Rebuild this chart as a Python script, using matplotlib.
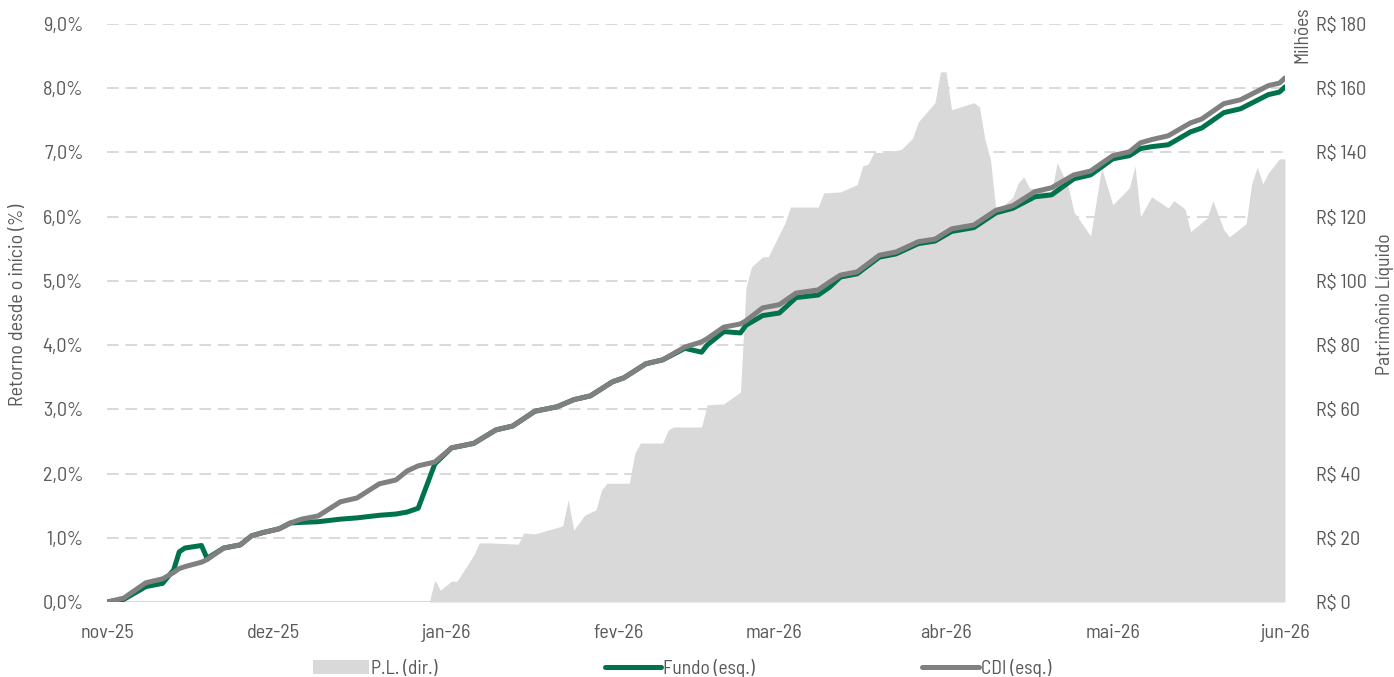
import matplotlib
matplotlib.use("Agg")
import matplotlib.pyplot as plt
from matplotlib.ticker import FuncFormatter, MultipleLocator
from matplotlib.lines import Line2D
from matplotlib.patches import Patch
import pandas as pd

# Retorno acumulado (%) - Fundo e CDI, mesmas datas
line_dates = [
    "2025-11-01", "2025-11-04", "2025-11-08", "2025-11-11", "2025-11-13", "2025-11-14",
    "2025-11-15", "2025-11-18", "2025-11-19", "2025-11-22", "2025-11-25", "2025-11-27",
    "2025-11-29", "2025-12-02", "2025-12-04", "2025-12-06", "2025-12-09", "2025-12-13",
    "2025-12-16", "2025-12-20", "2025-12-23", "2025-12-25", "2025-12-27", "2025-12-30",
    "2026-01-02", "2026-01-06", "2026-01-10", "2026-01-13", "2026-01-17", "2026-01-21",
    "2026-01-24", "2026-01-27", "2026-01-31", "2026-02-02", "2026-02-06", "2026-02-09",
    "2026-02-13", "2026-02-16", "2026-02-17", "2026-02-20", "2026-02-23", "2026-02-24",
    "2026-02-27", "2026-03-02", "2026-03-05", "2026-03-09", "2026-03-11", "2026-03-13",
    "2026-03-16", "2026-03-20", "2026-03-23", "2026-03-27", "2026-03-30", "2026-04-02",
    "2026-04-06", "2026-04-10", "2026-04-13", "2026-04-17", "2026-04-20", "2026-04-24",
    "2026-04-27", "2026-05-01", "2026-05-04", "2026-05-06", "2026-05-08", "2026-05-11",
    "2026-05-15", "2026-05-17", "2026-05-21", "2026-05-24", "2026-05-29", "2026-05-31",
    "2026-06-01",
]
cdi = [
    0.00, 0.06, 0.30, 0.36, 0.46, 0.52,
    0.55, 0.62, 0.66, 0.84, 0.89, 1.03,
    1.08, 1.14, 1.23, 1.29, 1.34, 1.56,
    1.62, 1.84, 1.90, 2.04, 2.12, 2.18,
    2.40, 2.47, 2.68, 2.74, 2.97, 3.04,
    3.15, 3.21, 3.43, 3.49, 3.71, 3.77,
    3.97, 4.05, 4.10, 4.28, 4.33, 4.38,
    4.58, 4.63, 4.81, 4.86, 4.98, 5.09,
    5.14, 5.40, 5.45, 5.61, 5.65, 5.81,
    5.87, 6.10, 6.17, 6.39, 6.45, 6.65,
    6.71, 6.95, 7.01, 7.15, 7.20, 7.26,
    7.46, 7.52, 7.76, 7.82, 8.04, 8.08,
    8.16,
]
fundo = [
    0.00, 0.04, 0.24, 0.29, 0.50, 0.78,
    0.84, 0.88, 0.68, 0.84, 0.89, 1.03,
    1.08, 1.14, 1.23, 1.24, 1.25, 1.29,
    1.31, 1.35, 1.37, 1.40, 1.46, 2.15,
    2.40, 2.47, 2.68, 2.74, 2.97, 3.04,
    3.15, 3.21, 3.43, 3.49, 3.71, 3.77,
    3.95, 3.89, 4.00, 4.21, 4.19, 4.31,
    4.46, 4.50, 4.74, 4.78, 4.90, 5.06,
    5.11, 5.37, 5.42, 5.58, 5.62, 5.77,
    5.83, 6.06, 6.13, 6.31, 6.34, 6.59,
    6.65, 6.90, 6.95, 7.06, 7.09, 7.12,
    7.32, 7.38, 7.62, 7.68, 7.90, 7.94,
    8.02,
]

# Patrimonio liquido (R$ milhoes)
pl_dates = [
    "2025-11-01", "2025-12-29", "2025-12-30", "2025-12-31", "2026-01-02", "2026-01-03",
    "2026-01-06", "2026-01-07", "2026-01-09", "2026-01-14", "2026-01-15", "2026-01-17",
    "2026-01-22", "2026-01-23", "2026-01-24", "2026-01-26", "2026-01-28", "2026-01-29",
    "2026-01-30", "2026-02-03", "2026-02-04", "2026-02-05", "2026-02-09", "2026-02-10",
    "2026-02-11", "2026-02-16", "2026-02-17", "2026-02-20", "2026-02-23", "2026-02-24",
    "2026-02-25", "2026-02-27", "2026-02-28", "2026-03-03", "2026-03-04", "2026-03-09",
    "2026-03-10", "2026-03-13", "2026-03-16", "2026-03-17", "2026-03-18", "2026-03-19",
    "2026-03-21", "2026-03-22", "2026-03-24", "2026-03-26", "2026-03-27", "2026-03-30",
    "2026-03-31", "2026-04-01", "2026-04-02", "2026-04-06", "2026-04-07", "2026-04-08",
    "2026-04-09", "2026-04-10", "2026-04-13", "2026-04-14", "2026-04-15", "2026-04-16",
    "2026-04-19", "2026-04-20", "2026-04-21", "2026-04-23", "2026-04-24", "2026-04-27",
    "2026-04-29", "2026-05-01", "2026-05-04", "2026-05-05", "2026-05-06", "2026-05-08",
    "2026-05-11", "2026-05-12", "2026-05-14", "2026-05-15", "2026-05-18", "2026-05-19",
    "2026-05-21", "2026-05-22", "2026-05-25", "2026-05-26", "2026-05-27", "2026-05-28",
    "2026-05-29", "2026-05-31", "2026-06-01",
]
pl = [
    0.0, 0.0, 6.8, 3.7, 6.5, 6.5,
    14.6, 18.4, 18.4, 18.0, 21.5, 21.2,
    23.7, 31.8, 22.4, 27.1, 28.7, 34.9,
    37.0, 37.0, 46.4, 49.5, 49.5, 53.6,
    54.5, 54.5, 61.4, 61.7, 65.4, 98.0,
    104.4, 107.5, 107.5, 118.0, 123.0, 123.0,
    127.4, 127.7, 130.0, 135.8, 136.4, 140.0,
    140.0, 140.2, 141.0, 144.5, 149.5, 155.5,
    165.1, 165.1, 153.3, 155.5, 154.2, 144.0,
    137.7, 121.5, 126.0, 130.5, 132.4, 129.0,
    127.7, 127.7, 136.8, 129.3, 121.5, 114.0,
    135.2, 123.7, 129.0, 135.8, 120.0, 126.2,
    122.7, 125.0, 122.4, 115.3, 119.6, 125.0,
    115.9, 113.7, 117.8, 130.2, 135.5, 130.2,
    133.6, 138.0, 138.0,
]

month_ticks = ["2025-11-01", "2025-12-01", "2026-01-01", "2026-02-01",
               "2026-03-01", "2026-04-01", "2026-05-01", "2026-06-01"]
month_labels = ["nov-25", "dez-25", "jan-26", "fev-26", "mar-26", "abr-26", "mai-26", "jun-26"]

GREEN = "#00734a"
GRAY_LINE = "#808080"
AREA = "#d9d9d9"
TEXT = "#595959"

plt.rcParams["font.family"] = ["Barlow Semi Condensed", "Barlow Condensed",
                               "Roboto Condensed", "Archivo Narrow", "DejaVu Sans"]
plt.rcParams["font.size"] = 15

line_x = pd.to_datetime(line_dates)
pl_x = pd.to_datetime(pl_dates)

fig = plt.figure(figsize=(13.94, 6.77), dpi=100)
ax2 = fig.add_axes([107 / 1394, 75 / 677, 1178 / 1394, 578 / 677])  # P.L. (direita)
ax = ax2.twinx()  # retorno (esquerda), por cima da area
ax.yaxis.tick_left()
ax2.yaxis.tick_right()
ax2.set_zorder(1)
ax.set_zorder(2)
ax.patch.set_visible(False)

ax2.fill_between(pl_x, pl, 0, color=AREA, lw=0, zorder=2)
ax2.set_ylim(0, 180)
ax2.yaxis.set_major_locator(MultipleLocator(20))
ax2.yaxis.set_major_formatter(FuncFormatter(lambda v, p: f"R$ {v:.0f}"))
ax2.grid(axis="y", color=AREA, ls=(0, (6, 3.5)), lw=1.4, zorder=0)
ax2.set_axisbelow(True)

ax.plot(line_x, fundo, color=GREEN, lw=3.6, solid_joinstyle="round", solid_capstyle="round")
ax.plot(line_x, cdi, color=GRAY_LINE, lw=3.6, solid_joinstyle="round", solid_capstyle="round")
ax.set_ylim(0, 9)
ax.yaxis.set_major_locator(MultipleLocator(1))
ax.yaxis.set_major_formatter(FuncFormatter(lambda v, p: f"{v:.1f}%".replace(".", ",")))

ax2.set_xlim(pd.Timestamp("2025-11-01"), pd.Timestamp("2026-06-01"))
ax2.set_xticks(pd.to_datetime(month_ticks))
ax2.set_xticklabels(month_labels)

for a in (ax, ax2):
    for s in a.spines.values():
        s.set_visible(False)
    a.tick_params(length=0, colors=TEXT, labelsize=14.5)
ax.tick_params(axis="y", pad=17)
ax2.tick_params(axis="y", pad=22)
ax2.tick_params(axis="x", pad=16)
ax2.axhline(0, color=AREA, lw=1.5, zorder=1)

# titulos dos eixos
fig.text(18 / 1394, 1 - 305 / 677, "Retorno desde o início (%)", rotation=90,
         ha="center", va="center", color=TEXT, fontsize=14.5)
fig.text(1385 / 1394, 1 - 304 / 677, "Patrimônio Líquido", rotation=90,
         ha="center", va="center", color=TEXT, fontsize=14)
fig.text(1302 / 1394, 1 - 35 / 677, "Milhões", rotation=90, ha="center", va="center",
         color=TEXT, fontsize=14)

handles = [
    Patch(facecolor=AREA, edgecolor="none"),
    Line2D([0], [0], color=GREEN, lw=3.6, solid_capstyle="round"),
    Line2D([0], [0], color=GRAY_LINE, lw=3.6, solid_capstyle="round"),
]
fig.legend(handles, ["P.L. (dir.)", "Fundo (esq.)", "CDI (esq.)"], loc="center",
           bbox_to_anchor=(682 / 1394, 1 - 668 / 677), ncol=3, frameon=False, fontsize=14,
           handlelength=2.9, handletextpad=0.1, columnspacing=8.6, labelcolor=TEXT)

fig.savefig("out.png", dpi=100)
